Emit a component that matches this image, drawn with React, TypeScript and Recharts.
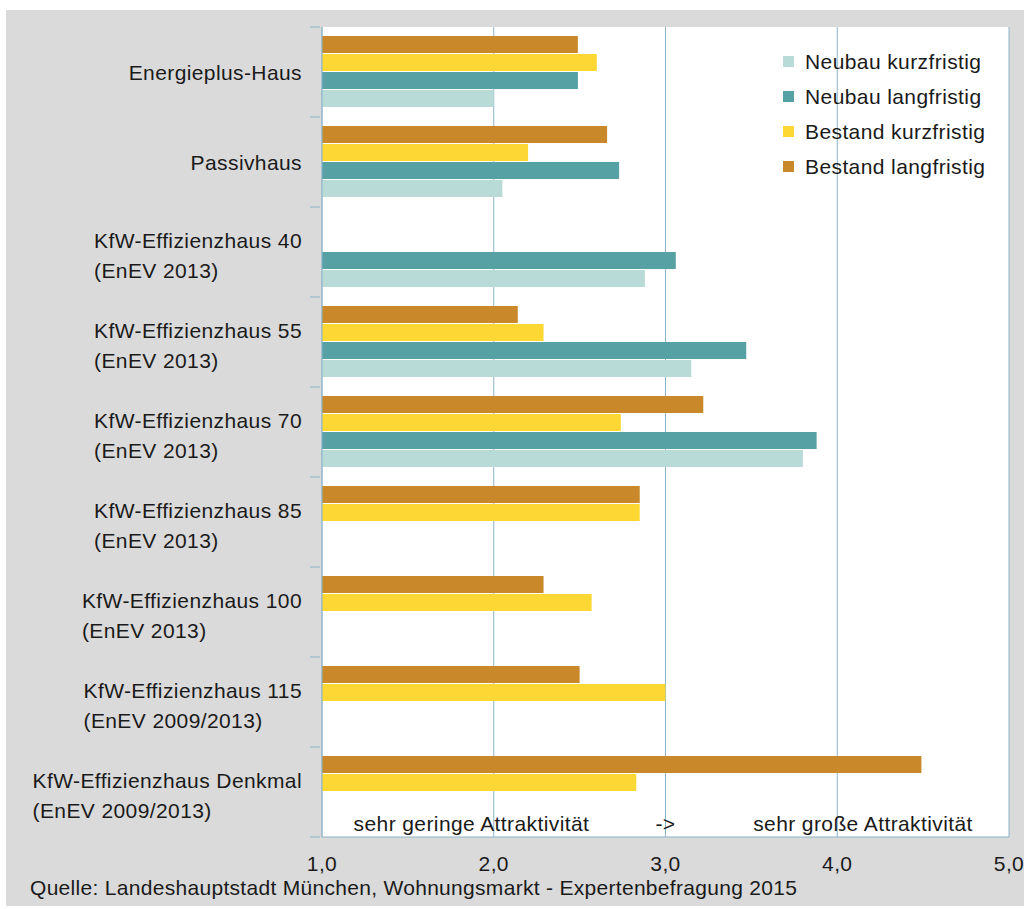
import React from "react";
import {
  BarChart,
  Bar,
  XAxis,
  YAxis,
  CartesianGrid,
  Legend,
  ReferenceLine,
} from "recharts";

// ---------- data ----------
const categories = [
  "Energieplus-Haus",
  "Passivhaus",
  "KfW-Effizienzhaus 40\n(EnEV 2013)",
  "KfW-Effizienzhaus 55\n(EnEV 2013)",
  "KfW-Effizienzhaus 70\n(EnEV 2013)",
  "KfW-Effizienzhaus 85\n(EnEV 2013)",
  "KfW-Effizienzhaus 100\n(EnEV 2013)",
  "KfW-Effizienzhaus 115\n(EnEV 2009/2013)",
  "KfW-Effizienzhaus Denkmal\n(EnEV 2009/2013)",
];

const neubauKurzfristig = [2.0, 2.05, 2.88, 3.15, 3.8, null, null, null, null];
const neubauLangfristig = [2.49, 2.73, 3.06, 3.47, 3.88, null, null, null, null];
const bestandKurzfristig = [2.6, 2.2, null, 2.29, 2.74, 2.85, 2.57, 3.0, 2.83];
const bestandLangfristig = [2.49, 2.66, null, 2.14, 3.22, 2.85, 2.29, 2.5, 4.49];

const xTicks = [1, 2, 3, 4, 5];

const seriesNames = {
  nk: "Neubau kurzfristig",
  nl: "Neubau langfristig",
  bk: "Bestand kurzfristig",
  bl: "Bestand langfristig",
};

const lowLabel = "sehr geringe Attraktivität";
const arrowLabel = "->";
const highLabel = "sehr große Attraktivität";
const sourceText =
  "Quelle: Landeshauptstadt München, Wohnungsmarkt - Expertenbefragung 2015";

const data = categories.map((c, i) => ({
  name: c,
  nk: neubauKurzfristig[i],
  nl: neubauLangfristig[i],
  bk: bestandKurzfristig[i],
  bl: bestandLangfristig[i],
}));

// ---------- styles ----------
const FONT = '"Liberation Sans", Arial, sans-serif';
const TEXT = "#1a1a1a";
const GRID = "#8db5ca";
const COLORS = {
  nk: "#b8dbd7",
  nl: "#55a1a4",
  bk: "#fdd733",
  bl: "#c9892b",
};
const LABEL_SIZE = 21;
const LS = 0.4;

let measureCtx: CanvasRenderingContext2D | null = null;
function measure(text: string): number {
  if (!measureCtx) {
    const c = document.createElement("canvas");
    measureCtx = c.getContext("2d");
  }
  if (!measureCtx) return text.length * 10;
  measureCtx.font = `${LABEL_SIZE}px ${FONT}`;
  return measureCtx.measureText(text).width + text.length * LS;
}

const CategoryTick = (props: any) => {
  const { x, y, payload, index } = props;
  const lines = String(payload.value).split("\n");
  const offset = payload.offset || 0;
  const axisX = x;
  const rightEdge = axisX - 18;
  const w = Math.max(...lines.map(measure));
  const left = rightEdge - w;
  const lineH = 30;
  const startY = y + (lines.length > 1 ? 3 : 0) - ((lines.length - 1) * lineH) / 2;
  const isLast = index === categories.length - 1;
  return (
    <g>
      <line
        x1={axisX - 10}
        x2={axisX}
        y1={y - offset}
        y2={y - offset}
        stroke={GRID}
        strokeWidth={1}
      />
      {isLast && (
        <line
          x1={axisX - 10}
          x2={axisX}
          y1={y + offset}
          y2={y + offset}
          stroke={GRID}
          strokeWidth={1}
        />
      )}
      <text
        x={left}
        y={startY}
        fill={TEXT}
        fontSize={LABEL_SIZE}
        fontFamily={FONT}
        letterSpacing={LS}
        textAnchor="start"
        dominantBaseline="central"
      >
        {lines.map((l, i) => (
          <tspan key={i} x={left} y={startY + i * lineH}>
            {l}
          </tspan>
        ))}
      </text>
    </g>
  );
};

const LegendContent = () => {
  const order: (keyof typeof COLORS)[] = ["nk", "nl", "bk", "bl"];
  return (
    <div
      style={{
        fontFamily: FONT,
        fontSize: LABEL_SIZE,
        letterSpacing: LS,
        color: TEXT,
      }}
    >
      {order.map((k) => (
        <div
          key={k}
          style={{ display: "flex", alignItems: "center", height: 35 }}
        >
          <span
            style={{
              display: "inline-block",
              width: 11,
              height: 11,
              background: COLORS[k],
              marginRight: 11,
            }}
          />
          <span>{seriesNames[k]}</span>
        </div>
      ))}
    </div>
  );
};

const refLabel = (value: string) => ({
  value,
  position: "insideBottom" as const,
  offset: 6,
  fill: TEXT,
  fontSize: LABEL_SIZE,
  fontFamily: FONT,
  letterSpacing: LS,
});

export default function App() {
  return (
    <div
      style={{
        position: "absolute",
        left: 0,
        top: 0,
        width: 1024,
        height: 909,
        background: "#ffffff",
        overflow: "hidden",
      }}
    >
      <div
        style={{
          position: "absolute",
          left: 6,
          top: 10,
          width: 1018,
          height: 896,
          background: "#dadada",
        }}
      />
      <div style={{ position: "absolute", left: 0, top: 0 }}>
        <BarChart
          width={1024}
          height={909}
          data={data}
          layout="vertical"
          margin={{ top: 27, right: 15, bottom: 42, left: 0 }}
          barCategoryGap={9}
          barGap={1}
        >
          <CartesianGrid
            horizontal={false}
            vertical={true}
            stroke={GRID}
            strokeWidth={1}
            fill="#ffffff"
            fillOpacity={1}
          />
          <XAxis
            type="number"
            domain={[1, 5]}
            ticks={xTicks}
            allowDataOverflow
            height={30}
            axisLine={{ stroke: GRID }}
            tickLine={false}
            tickMargin={13}
            interval={0}
            tick={{
              fill: TEXT,
              fontSize: LABEL_SIZE,
              fontFamily: FONT,
              letterSpacing: LS,
            }}
            tickFormatter={(v: number) => v.toFixed(1).replace(".", ",")}
          />
          <XAxis
            xAxisId="top"
            orientation="top"
            type="number"
            domain={[1, 5]}
            height={0}
            tick={false}
            tickLine={false}
            axisLine={{ stroke: GRID }}
          />
          <YAxis
            type="category"
            dataKey="name"
            width={322}
            axisLine={{ stroke: GRID }}
            tickLine={false}
            tickSize={0}
            interval={0}
            tick={<CategoryTick />}
          />
          <Bar dataKey="bl" name={seriesNames.bl} fill={COLORS.bl} isAnimationActive={false} />
          <Bar dataKey="bk" name={seriesNames.bk} fill={COLORS.bk} isAnimationActive={false} />
          <Bar dataKey="nl" name={seriesNames.nl} fill={COLORS.nl} isAnimationActive={false} />
          <Bar dataKey="nk" name={seriesNames.nk} fill={COLORS.nk} isAnimationActive={false} />
          <ReferenceLine x={1.87} stroke="none" label={refLabel(lowLabel)} />
          <ReferenceLine x={3.0} stroke="none" label={refLabel(arrowLabel)} />
          <ReferenceLine x={4.15} stroke="none" label={refLabel(highLabel)} />
          <Legend
            layout="vertical"
            align="center"
            verticalAlign="middle"
            content={<LegendContent />}
            wrapperStyle={{ top: 44, left: 783, width: 240 }}
          />
        </BarChart>
      </div>
      <div
        style={{
          position: "absolute",
          left: 30,
          top: 876,
          fontFamily: FONT,
          fontSize: LABEL_SIZE,
          letterSpacing: 0.3,
          color: TEXT,
          whiteSpace: "nowrap",
        }}
      >
        {sourceText}
      </div>
    </div>
  );
}
